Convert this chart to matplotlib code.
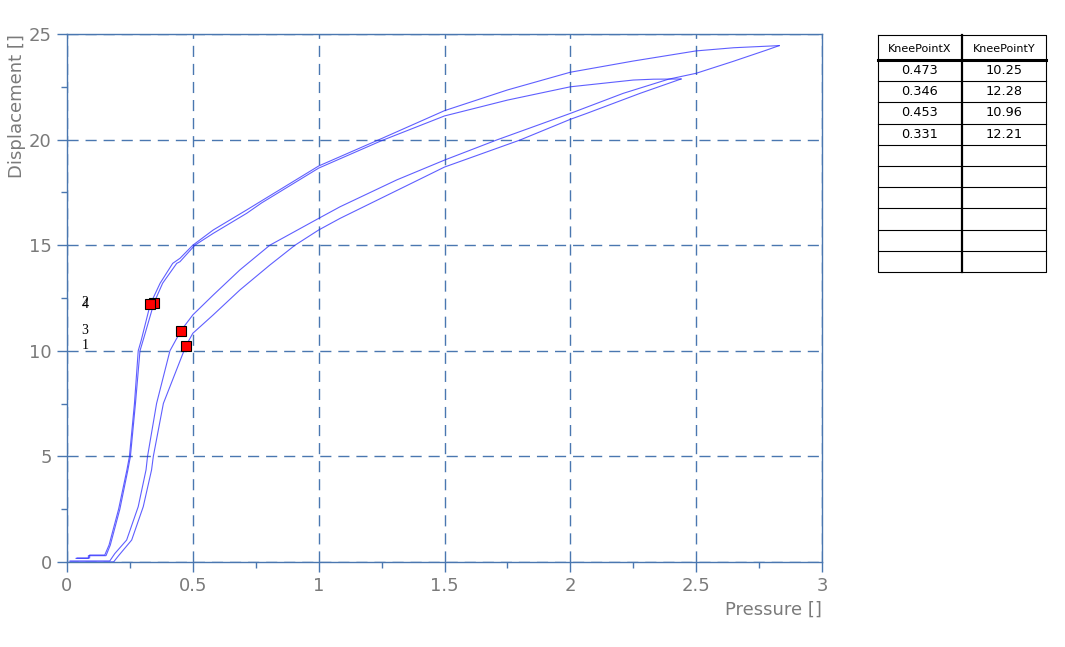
import matplotlib
matplotlib.use("Agg")
import matplotlib.pyplot as plt
from matplotlib.ticker import MultipleLocator

# ---------------- data ----------------
load1_x = [0.012, 0.185, 0.205, 0.257, 0.303, 0.336, 0.343, 0.383, 0.473, 0.5, 0.581, 0.687, 0.806, 0.906,
           1.0, 1.085, 1.396, 1.5, 1.8, 2.0, 2.065, 2.277, 2.44]
load1_y = [0.0, 0.0, 0.3, 1.04, 2.62, 4.36, 5.0, 7.51, 10.25, 10.83, 11.7, 12.88, 14.06, 15.0,
           15.72, 16.27, 18.09, 18.7, 19.98, 20.96, 21.24, 22.19, 22.87]

unload1_x = [2.44, 2.33, 2.25, 2.0, 1.75, 1.5, 1.25, 1.0, 0.773, 0.714, 0.581, 0.508, 0.449, 0.436, 0.38,
             0.346, 0.305, 0.29, 0.272, 0.252, 0.242, 0.21, 0.172, 0.155, 0.085, 0.085, 0.036]
unload1_y = [22.87, 22.86, 22.82, 22.5, 21.87, 21.12, 19.95, 18.65, 17.0, 16.51, 15.56, 15.0, 14.22, 14.14, 13.2,
             12.28, 10.6, 10.0, 7.5, 5.0, 4.36, 2.5, 0.8, 0.3, 0.3, 0.17, 0.17]

load2_x = [0.012, 0.17, 0.19, 0.237, 0.283, 0.314, 0.32, 0.356, 0.409, 0.453, 0.5, 0.581, 0.687, 0.806,
           1.0, 1.085, 1.31, 1.5, 1.707, 2.0, 2.21, 2.39, 2.5, 2.646, 2.78, 2.83]
load2_y = [0.05, 0.05, 0.4, 1.04, 2.62, 4.36, 5.0, 7.51, 10.0, 10.96, 11.7, 12.64, 13.83, 15.0,
           16.27, 16.82, 18.09, 19.03, 19.98, 21.24, 22.19, 22.86, 23.14, 23.7, 24.24, 24.45]

unload2_x = [2.83, 2.65, 2.5, 2.25, 2.0, 1.75, 1.5, 1.25, 1.0, 0.773, 0.714, 0.581, 0.5, 0.449, 0.42, 0.37,
             0.331, 0.295, 0.283, 0.268, 0.248, 0.238, 0.205, 0.167, 0.15, 0.09, 0.09, 0.04]
unload2_y = [24.45, 24.35, 24.2, 23.72, 23.19, 22.35, 21.37, 20.05, 18.75, 17.1, 16.67, 15.72, 15.0, 14.38, 14.14, 13.2,
             12.21, 10.5, 10.0, 7.5, 5.0, 4.36, 2.5, 0.8, 0.33, 0.33, 0.19, 0.19]

curve_labels = ["1", "2", "3", "4"]
knee_x = [0.473, 0.346, 0.453, 0.331]
knee_y = [10.25, 12.28, 10.96, 12.21]
col_headers = ["KneePointX", "KneePointY"]
n_table_rows = 10

# ---------------- styles ----------------
axis_col = "#4a77b0"
text_col = "#7a7a7a"
line_col = "#2a2aff"

fig = plt.figure(figsize=(10.65, 6.47), dpi=100)
ax = fig.add_axes([67 / 1065, 1 - 562 / 647, (822 - 67) / 1065, (562 - 34) / 647])

curves = [(load1_x, load1_y), (unload1_x, unload1_y), (load2_x, load2_y), (unload2_x, unload2_y)]
for cx, cy in curves:
    ax.plot(cx, cy, color=line_col, lw=0.8, alpha=0.75, zorder=3)

ax.plot(knee_x, knee_y, ls="none", marker="s", ms=6.5, mfc="red", mec="black", mew=0.8, zorder=5)

for lab, ky in zip(curve_labels, knee_y):
    ax.text(0.058, ky, lab, fontsize=10, family="Liberation Serif", va="center", ha="left", color="black")

ax.set_xlim(0, 3)
ax.set_ylim(0, 25)
ax.xaxis.set_minor_locator(MultipleLocator(0.25))
ax.yaxis.set_minor_locator(MultipleLocator(2.5))
ax.set_xticks([0, 0.5, 1, 1.5, 2, 2.5, 3])
ax.set_xticklabels(["0", "0.5", "1", "1.5", "2", "2.5", "3"])
ax.set_yticks([0, 5, 10, 15, 20, 25])
ax.set_yticklabels(["0", "5", "10", "15", "20", "25"])

ax.grid(True, which="major", color=axis_col, ls=(0, (8, 5)), lw=1.0)
for s in ax.spines.values():
    s.set_color(axis_col)
    s.set_linewidth(1.0)
ax.tick_params(which="major", direction="out", length=7, width=1.0, color=axis_col,
               labelcolor=text_col, labelsize=13, pad=4)
ax.tick_params(which="minor", direction="out", length=4, width=1.0, color=axis_col)
for t in ax.get_xticklabels() + ax.get_yticklabels():
    t.set_family("DejaVu Sans")

ax.set_xlabel("Pressure []", fontsize=13, color=text_col, family="DejaVu Sans", loc="right", labelpad=4)
ax.set_ylabel("Displacement []", fontsize=13, color=text_col, family="DejaVu Sans", loc="top", labelpad=2)

# ---------------- table ----------------
tab = fig.add_axes([0, 0, 1, 1], facecolor="none")
tab.set_xlim(0, 1065)
tab.set_ylim(647, 0)
tab.axis("off")
tl, tr, tm = 878, 1046, 962
ttop, thead = 35, 60
row_h = 21.2
tbot = thead + n_table_rows * row_h
tab.plot([tl, tr, tr, tl, tl], [ttop, ttop, tbot, tbot, ttop], color="black", lw=0.8)
tab.plot([tm, tm], [ttop, tbot], color="black", lw=1.6)
tab.plot([tl, tr], [thead, thead], color="black", lw=2.2)
for i in range(1, n_table_rows):
    yy = thead + i * row_h
    tab.plot([tl, tr], [yy, yy], color="black", lw=0.8)
tab.text((tl + tm) / 2, (ttop + thead) / 2 + 1, col_headers[0], fontsize=8, ha="center", va="center",
         family="DejaVu Sans")
tab.text((tm + tr) / 2, (ttop + thead) / 2 + 1, col_headers[1], fontsize=8, ha="center", va="center",
         family="DejaVu Sans")
for i, (kx, ky) in enumerate(zip(knee_x, knee_y)):
    yc = thead + (i + 0.5) * row_h
    tab.text((tl + tm) / 2, yc, f"{kx:.3f}", fontsize=9.3, ha="center", va="center", family="DejaVu Sans")
    tab.text((tm + tr) / 2, yc, f"{ky:.2f}", fontsize=9.3, ha="center", va="center", family="DejaVu Sans")

fig.savefig("out.png", dpi=100)
